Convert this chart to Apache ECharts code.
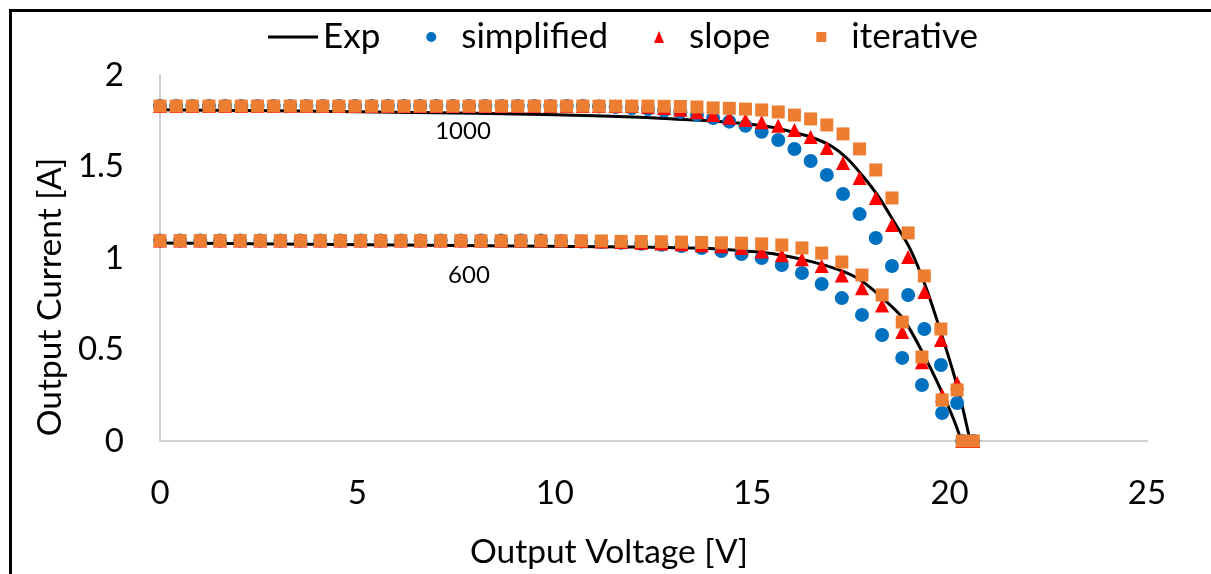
<!DOCTYPE html>
<html>
<head>
<meta charset="utf-8">
<style>html,body{margin:0;padding:0;background:#fff;}#chart{width:1211px;height:574px;}</style>
<script src="https://cdn.jsdelivr.net/npm/echarts@6/dist/echarts.min.js"></script>
</head>
<body>
<div id="chart"></div>
<script>
// ---- data ----
const xTicks = [0, 5, 10, 15, 20, 25];
const yTicks = [0, 0.5, 1, 1.5, 2];

// 1000 W/m2 curve: marker voltages
const voltage1000 = [0, 0.41, 0.82, 1.24, 1.65, 2.06, 2.47, 2.88, 3.3, 3.71, 4.12, 4.53, 4.94, 5.36, 5.77, 6.18, 6.59, 7.0, 7.42, 7.83, 8.24, 8.65, 9.06, 9.48, 9.89, 10.3, 10.71, 11.12, 11.54, 11.95, 12.36, 12.77, 13.18, 13.6, 14.01, 14.42, 14.83, 15.24, 15.66, 16.07, 16.48, 16.89, 17.3, 17.72, 18.13, 18.54, 18.95, 19.36, 19.78, 20.19, 20.6];
const simplified1000 = [1.83, 1.83, 1.83, 1.83, 1.83, 1.83, 1.83, 1.83, 1.83, 1.83, 1.83, 1.83, 1.83, 1.83, 1.83, 1.83, 1.83, 1.83, 1.83, 1.83, 1.83, 1.83, 1.83, 1.83, 1.83, 1.83, 1.83, 1.828, 1.825, 1.82, 1.814, 1.806, 1.797, 1.782, 1.765, 1.745, 1.722, 1.69, 1.645, 1.596, 1.53, 1.454, 1.35, 1.24, 1.109, 0.956, 0.798, 0.612, 0.415, 0.208, 0];
const slope1000 = [1.83, 1.83, 1.83, 1.83, 1.83, 1.83, 1.83, 1.83, 1.83, 1.83, 1.83, 1.83, 1.83, 1.83, 1.83, 1.83, 1.83, 1.83, 1.83, 1.83, 1.83, 1.83, 1.83, 1.83, 1.83, 1.83, 1.83, 1.83, 1.83, 1.83, 1.826, 1.82, 1.81, 1.797, 1.782, 1.767, 1.754, 1.742, 1.722, 1.699, 1.661, 1.601, 1.519, 1.437, 1.328, 1.18, 1.005, 0.814, 0.552, 0.317, 0];
const iterative1000 = [1.83, 1.83, 1.83, 1.83, 1.83, 1.83, 1.83, 1.83, 1.83, 1.83, 1.83, 1.83, 1.83, 1.83, 1.83, 1.83, 1.83, 1.83, 1.83, 1.83, 1.83, 1.83, 1.83, 1.83, 1.83, 1.83, 1.83, 1.83, 1.83, 1.83, 1.83, 1.829, 1.828, 1.825, 1.82, 1.818, 1.814, 1.809, 1.798, 1.781, 1.76, 1.727, 1.678, 1.596, 1.481, 1.328, 1.137, 0.902, 0.612, 0.279, 0];

// 600 W/m2 curve: marker voltages
const voltage600 = [0, 0.51, 1.02, 1.52, 2.03, 2.54, 3.05, 3.56, 4.06, 4.57, 5.08, 5.59, 6.1, 6.6, 7.11, 7.62, 8.13, 8.64, 9.14, 9.65, 10.16, 10.67, 11.18, 11.68, 12.19, 12.7, 13.21, 13.72, 14.22, 14.73, 15.24, 15.75, 16.26, 16.76, 17.27, 17.78, 18.29, 18.8, 19.3, 19.81, 20.32];
const simplified600 = [1.095, 1.095, 1.095, 1.095, 1.095, 1.095, 1.095, 1.095, 1.095, 1.095, 1.095, 1.095, 1.095, 1.095, 1.095, 1.095, 1.095, 1.095, 1.095, 1.095, 1.093, 1.09, 1.087, 1.083, 1.078, 1.072, 1.065, 1.055, 1.038, 1.022, 1.0, 0.962, 0.918, 0.858, 0.781, 0.689, 0.579, 0.454, 0.306, 0.153, 0];
const slope600 = [1.095, 1.095, 1.095, 1.095, 1.095, 1.095, 1.095, 1.095, 1.095, 1.095, 1.095, 1.095, 1.095, 1.095, 1.095, 1.095, 1.095, 1.095, 1.095, 1.095, 1.095, 1.093, 1.09, 1.087, 1.083, 1.079, 1.075, 1.07, 1.064, 1.055, 1.035, 1.015, 0.993, 0.956, 0.905, 0.835, 0.74, 0.595, 0.43, 0.25, 0];
const iterative600 = [1.095, 1.095, 1.095, 1.095, 1.095, 1.095, 1.095, 1.095, 1.095, 1.095, 1.095, 1.095, 1.095, 1.095, 1.095, 1.095, 1.094, 1.094, 1.094, 1.094, 1.094, 1.094, 1.093, 1.091, 1.09, 1.089, 1.087, 1.085, 1.083, 1.081, 1.077, 1.071, 1.055, 1.027, 0.978, 0.907, 0.798, 0.65, 0.459, 0.224, 0];

// Experimental curves
const expV1000 = [0, 2, 4, 6, 8, 10, 12, 13, 14, 15, 15.5, 16, 16.5, 17, 17.4, 17.8, 18.2, 18.6, 19.0, 19.4, 19.8, 20.1, 20.3, 20.52];
const expI1000 = [1.81, 1.806, 1.802, 1.797, 1.791, 1.783, 1.77, 1.76, 1.749, 1.73, 1.715, 1.69, 1.66, 1.612, 1.545, 1.448, 1.335, 1.195, 1.05, 0.84, 0.58, 0.37, 0.21, 0];
const expV600 = [0, 3, 6, 9, 12, 13.5, 14.5, 15.5, 16.5, 17.2, 17.7, 18.2, 18.8, 19.3, 19.8, 20.1, 20.3];
const expI600 = [1.082, 1.077, 1.071, 1.066, 1.06, 1.054, 1.044, 1.024, 0.98, 0.935, 0.885, 0.8, 0.675, 0.49, 0.27, 0.12, 0];

const curveLabels = ['1000', '600'];
const legendNames = ['Exp', 'simplified', 'slope', 'iterative'];

// ---- chart ----
const zip = (xs, ys) => xs.map((x, i) => [x, ys[i]]);
const FONT = 'Lato, "Open Sans", sans-serif';
const chart = echarts.init(document.getElementById('chart'), null, {renderer: 'canvas'});

const lineSeries = (name, xs, ys) => ({
  name, type: 'line', data: zip(xs, ys), smooth: 0.3, showSymbol: false, symbol: 'none',
  lineStyle: {color: '#000', width: 3}, itemStyle: {color: '#000'}, z: 2
});
const scatterSeries = (name, xs, ys, symbol, size, color) => ({
  name, type: 'scatter', data: zip(xs, ys), symbol, symbolSize: size,
  itemStyle: {color, opacity: 1}, z: 3
});

chart.setOption({
  animation: false,
  backgroundColor: '#fff',
  textStyle: {fontFamily: FONT},
  legend: {
    data: [
      {name: 'Exp', icon: 'path://M0,0 H50 V3 H0 Z', itemStyle: {color: '#000'}},
      {name: 'simplified', icon: 'path://M5,0 A5,5 0 1 1 4.99,0 Z M0,-20 L0,-20 M0,30 L0,30'},
      {name: 'slope', icon: 'path://M5,0 L10,12 L0,12 Z M0,-19 L0,-19 M0,31 L0,31'},
      {name: 'iterative', icon: 'path://M0,0 H10 V10 H0 Z M0,-20 L0,-20 M0,30 L0,30'}
    ],
    left: 263, top: 7, itemWidth: 50, itemHeight: 50, itemGap: 46, symbolKeepAspect: true,
    textStyle: {fontFamily: FONT, fontSize: 35, color: '#000'}
  },
  grid: {left: 160, right: 64, top: 75, bottom: 133},
  xAxis: {
    type: 'value', min: 0, max: 25, interval: 5,
    axisLine: {show: true, lineStyle: {color: '#d0d0d0', width: 2}},
    axisTick: {show: false}, splitLine: {show: false},
    axisLabel: {fontFamily: FONT, fontSize: 33, color: '#000', margin: 36,
      formatter: v => (xTicks.includes(v) ? String(v) : '')}
  },
  yAxis: {
    type: 'value', min: 0, max: 2, interval: 0.5,
    axisLine: {show: true, lineStyle: {color: '#d0d0d0', width: 2}},
    axisTick: {show: false}, splitLine: {show: false},
    axisLabel: {fontFamily: FONT, fontSize: 33, color: '#000', margin: 36,
      formatter: v => (yTicks.includes(v) ? String(v) : '')}
  },
  graphic: [
    {type: 'rect', shape: {x: 10.5, y: 10.5, width: 1300, height: 700}, style: {fill: 'none', stroke: '#000', lineWidth: 3}, z: 100},
    {type: 'text', x: 609, y: 552, style: {text: 'Output Voltage [V]', font: '33.5px ' + FONT, fill: '#000', textAlign: 'center', textVerticalAlign: 'middle'}},
    {type: 'text', x: 50, y: 297, rotation: Math.PI / 2, style: {text: 'Output Current [A]', font: '33.5px ' + FONT, fill: '#000', textAlign: 'center', textVerticalAlign: 'middle'}},
    {type: 'text', x: 463, y: 131, style: {text: curveLabels[0], font: '24px ' + FONT, fill: '#000', textAlign: 'center', textVerticalAlign: 'middle'}, z: 50},
    {type: 'text', x: 469, y: 275, style: {text: curveLabels[1], font: '24px ' + FONT, fill: '#000', textAlign: 'center', textVerticalAlign: 'middle'}, z: 50}
  ],
  series: [
    lineSeries(legendNames[0], expV1000, expI1000),
    lineSeries(legendNames[0], expV600, expI600),
    scatterSeries(legendNames[1], voltage1000, simplified1000, 'circle', 14, '#0070C0'),
    scatterSeries(legendNames[1], voltage600, simplified600, 'circle', 14, '#0070C0'),
    scatterSeries(legendNames[2], voltage1000, slope1000, 'triangle', 14, '#FF0000'),
    scatterSeries(legendNames[2], voltage600, slope600, 'triangle', 14, '#FF0000'),
    scatterSeries(legendNames[3], voltage1000, iterative1000, 'rect', 13, '#ED7D31'),
    scatterSeries(legendNames[3], voltage600, iterative600, 'rect', 13, '#ED7D31')
  ]
});
</script>
</body>
</html>
